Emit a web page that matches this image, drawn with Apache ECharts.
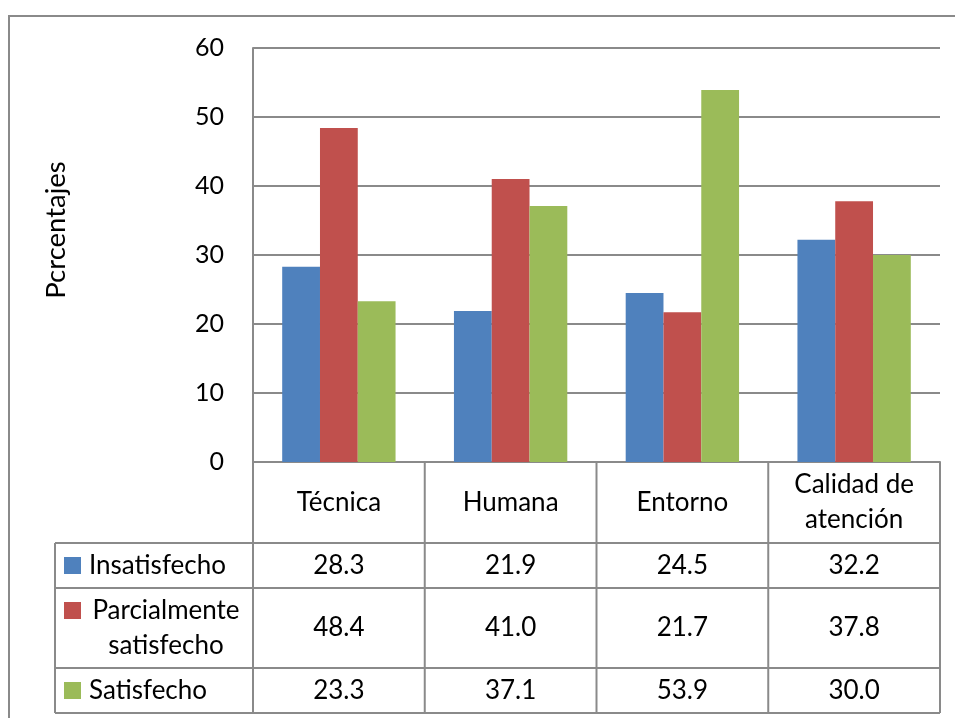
<!DOCTYPE html>
<html>
<head>
<meta charset="utf-8">
<title>Percentajes por dimensión</title>
<script src="https://cdn.jsdelivr.net/npm/echarts@6/dist/echarts.min.js"></script>
<style>
  html, body { margin: 0; padding: 0; background: #fff; }
  #chart { width: 955px; height: 718px; }
</style>
</head>
<body>
<div id="chart"></div>
<script>
// Categories and series values
const categories = ['Técnica', 'Humana', 'Entorno', 'Calidad de\natención'];
const seriesNames = ['Insatisfecho', 'Parcialmente\nsatisfecho', 'Satisfecho'];
const insatisfecho = [28.3, 21.9, 24.5, 32.2];
const parcialmente = [48.4, 41.0, 21.7, 37.8];
const satisfecho = [23.3, 37.1, 53.9, 30.0];
const yMin = 0, yMax = 60, yStep = 10;
const yTitle = 'Pcrcentajes';

const seriesValues = [insatisfecho, parcialmente, satisfecho];
const colors = ['#4F81BD', '#C0504D', '#9BBB59'];
const FONT = 'Lato, "Open Sans", sans-serif';
const FS = 26;
const LINE = '#8a8a8a';

const GRID = { left: 253, right: 15, top: 48, bottom: 256 };

const chart = echarts.init(document.getElementById('chart'), null, { renderer: 'canvas' });

const baseOption = {
  animation: false,
  backgroundColor: '#fff',
  textStyle: { fontFamily: FONT },
  grid: { left: GRID.left, right: GRID.right, top: GRID.top, bottom: GRID.bottom, containLabel: false },
  xAxis: {
    type: 'category',
    data: categories,
    axisLabel: { show: false },
    axisTick: { show: false },
    axisLine: { show: true, lineStyle: { color: LINE, width: 2 } },
    splitLine: { show: false }
  },
  yAxis: {
    type: 'value',
    min: yMin, max: yMax, interval: yStep,
    axisLabel: { fontSize: 25, color: '#000', margin: 29, fontFamily: FONT },
    axisTick: { show: false },
    axisLine: { show: true, lineStyle: { color: LINE, width: 2 } },
    splitLine: { show: true, lineStyle: { color: LINE, width: 2 } }
  },
  series: seriesValues.map((vals, i) => ({
    name: seriesNames[i],
    type: 'bar',
    data: vals,
    barGap: '0%',
    barCategoryGap: '34%',
    itemStyle: { color: colors[i] }
  }))
};

chart.setOption(baseOption);

// Data table under the plot, laid out against the category axis
function buildTable() {
  const centers = categories.map((c, i) => chart.convertToPixel({ xAxisIndex: 0 }, i));
  const plotLeft = GRID.left;
  const plotRight = 955 - GRID.right;
  const edges = [plotLeft];
  for (let i = 0; i < centers.length - 1; i++) edges.push((centers[i] + centers[i + 1]) / 2);
  edges.push(plotRight);

  const axisY = chart.convertToPixel({ yAxisIndex: 0 }, yMin);
  const rowLines = [axisY, 543, 588, 668, 713];
  const tableLeft = 55;
  const g = [];

  const line = (x1, y1, x2, y2) => ({
    type: 'line',
    shape: { x1, y1, x2, y2 },
    style: { stroke: LINE, lineWidth: 2 },
    z: 10
  });
  const text = (x, y, str, align, size) => ({
    type: 'text',
    x, y,
    style: {
      text: str, align: align || 'center', verticalAlign: 'middle',
      font: (size || FS) + 'px ' + FONT, fill: '#000', lineHeight: 35
    },
    z: 11
  });

  // outer frame
  g.push({
    type: 'rect',
    shape: { x: 9, y: 16, width: 1000, height: 800 },
    style: { fill: 'none', stroke: LINE, lineWidth: 2 },
    z: 1
  });

  // value-axis title, rotated
  const title = text(56, 230, yTitle, 'center', 27.5);
  title.rotation = Math.PI / 2;
  g.push(title);

  // horizontal rules
  for (let r = 1; r < rowLines.length; r++) g.push(line(tableLeft, rowLines[r], plotRight, rowLines[r]));
  // vertical rules
  g.push(line(tableLeft, rowLines[1], tableLeft, rowLines[4]));
  edges.forEach(x => g.push(line(x, axisY, x, rowLines[4])));

  // category header
  centers.forEach((cx, i) => g.push(text(cx, (rowLines[0] + rowLines[1]) / 2, categories[i])));

  // series rows
  seriesValues.forEach((vals, s) => {
    const cy = (rowLines[s + 1] + rowLines[s + 2]) / 2;
    const multiline = seriesNames[s].indexOf('\n') >= 0;
    const keyY = multiline ? cy - 17.5 : cy;
    g.push({
      type: 'rect',
      shape: { x: 64, y: keyY - 8.5, width: 17, height: 17 },
      style: { fill: colors[s] },
      z: 11
    });
    if (multiline) g.push(text(166, cy, seriesNames[s], 'center'));
    else g.push(text(89, cy, seriesNames[s], 'left'));
    vals.forEach((v, i) => g.push(text(centers[i], cy, v.toFixed(1))));
  });

  chart.setOption({ graphic: { elements: g } });
}

buildTable();
</script>
</body>
</html>
